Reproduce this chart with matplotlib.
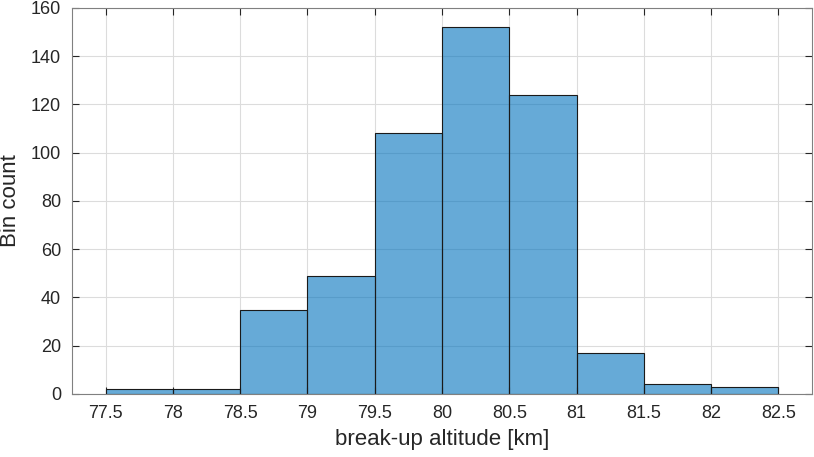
import numpy as np
import matplotlib.pyplot as plt

plt.rcParams["font.family"] = ["Liberation Sans", "DejaVu Sans"]

# Histogram of break-up altitudes
bin_edges = [77.5, 78.0, 78.5, 79.0, 79.5, 80.0, 80.5, 81.0, 81.5, 82.0, 82.5]
bin_counts = [2, 2, 35, 49, 108, 152, 124, 17, 4, 3]
x_ticks = [77.5, 78, 78.5, 79, 79.5, 80, 80.5, 81, 81.5, 82, 82.5]
x_tick_labels = ["77.5", "78", "78.5", "79", "79.5", "80", "80.5", "81", "81.5", "82", "82.5"]
y_ticks = [0, 20, 40, 60, 80, 100, 120, 140, 160]

fig = plt.figure(figsize=(8.14, 4.57), dpi=100)
ax = fig.add_axes([0.0885, 0.138, 0.909, 0.8445])

widths = np.diff(bin_edges)
ax.bar(bin_edges[:-1], bin_counts, width=widths, align="edge",
       color="#0072BD", alpha=0.6, edgecolor="none", zorder=2)
ax.bar(bin_edges[:-1], bin_counts, width=widths, align="edge",
       facecolor="none", edgecolor="#1a1a1a", linewidth=0.8, zorder=3)

ax.set_xlim(77.25, 82.75)
ax.set_ylim(0, 160)
ax.set_xticks(x_ticks)
ax.set_xticklabels(x_tick_labels)
ax.set_yticks(y_ticks)

ax.grid(True, color="#dcdcdc", linewidth=0.8, zorder=0)
ax.set_axisbelow(True)

axis_col = "#262626"
for s in ax.spines.values():
    s.set_color("#808080")
    s.set_linewidth(0.8)
    s.set_zorder(4)
ax.tick_params(direction="in", length=5, width=0.8, color=axis_col,
               labelsize=13, labelcolor=axis_col, top=True, right=True, pad=8)

ax.set_xlabel("break-up altitude [km]", fontsize=16, color=axis_col, labelpad=5)
ax.set_ylabel("Bin count", fontsize=16, color=axis_col, labelpad=7)

fig.savefig("out.png", dpi=100)
